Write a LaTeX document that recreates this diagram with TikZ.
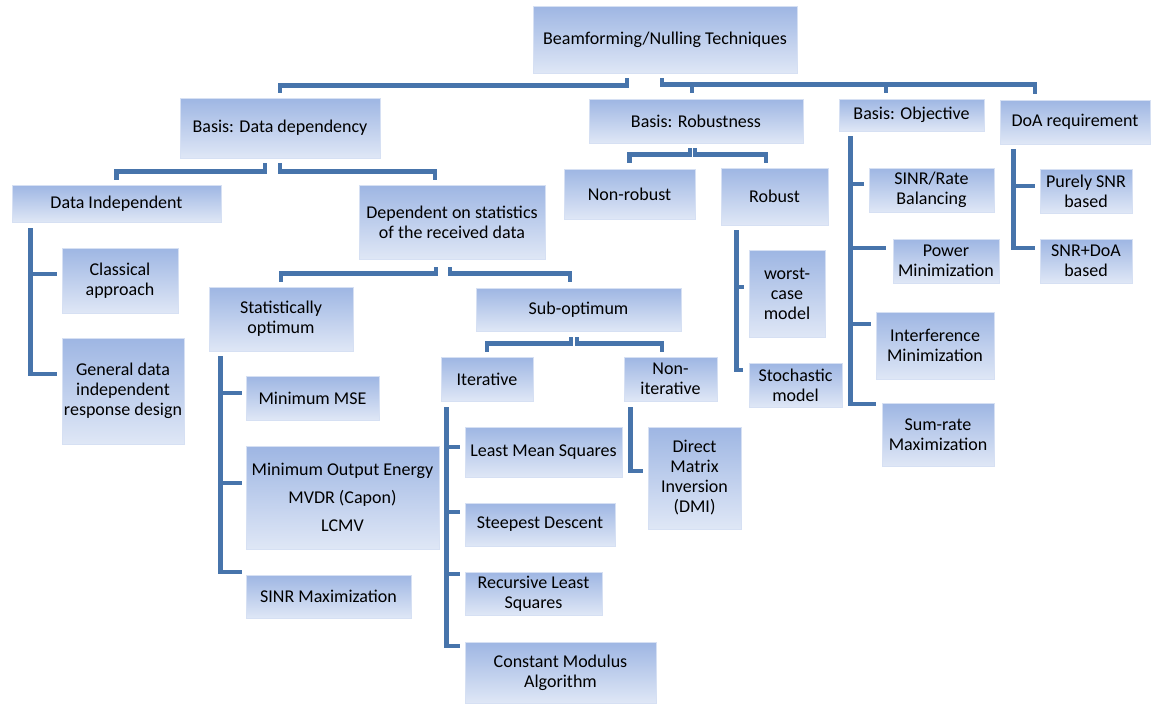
\documentclass[tikz,border=0pt]{standalone}
\usepackage{fontspec}
\setmainfont{Carlito}
\usepackage{tikz}
\usetikzlibrary{calc}
\definecolor{boxtop}{RGB}{158,182,227}
\definecolor{boxbottom}{RGB}{223,231,246}
\definecolor{boxedge}{RGB}{214,224,243}
\definecolor{linkblue}{RGB}{71,116,171}

\begin{document}
\begin{tikzpicture}[
        x=1pt, y=-1pt,
        block/.style={draw=boxedge, line width=0.8pt, top color=boxtop, bottom color=boxbottom,
            align=center, inner sep=1pt, font=\fontsize{18}{20}\selectfont},
        wh/.style 2 args={minimum width=#1, minimum height=#2},
        link/.style={draw=linkblue, line width=4.5pt, line join=miter}
    ]
        \useasboundingbox (0,0) rectangle (1153,704);

        % Root and first level
        \node[block, wh={264}{67}] (root) at (665,39.5) {Beamforming/Nulling Techniques};
        \node[block, wh={200}{60}] (dd) at (280,128) {Basis: Data dependency};
        \node[block, wh={214}{44}] (rob) at (696,121) {Basis: Robustness};
        \node[block, wh={145}{32}] (obj) at (911.5,115) {Basis: Objective};
        \node[block, wh={150}{44}] (doa) at (1075,122) {DoA requirement};

        % Data dependency side
        \node[block, wh={209}{37}] (indep) at (116.5,203.5) {Data Independent};
        \node[block, wh={186}{74}] (dep) at (452,222) {Dependent on statistics\\of the received data};
        \node[block, wh={116}{65}] (classic) at (120,280.5) {Classical\\approach};
        \node[block, wh={122}{106}] (general) at (123,391) {General data\\independent\\response design};
        \node[block, wh={144}{64}] (statopt) at (281,319) {Statistically\\optimum};
        \node[block, wh={205}{43}] (subopt) at (578.5,309.5) {Sub-optimum};

        % Statistically optimum
        \node[block, wh={133}{44}] (mmse) at (312.5,398) {Minimum MSE};
        \node[block, wh={193}{103}] (moe) at (342.5,497.5) {Minimum Output Energy\\[8pt]MVDR (Capon)\\[8pt]LCMV};
        \node[block, wh={165}{43}] (sinrmax) at (328.5,596.5) {SINR Maximization};

        % Sub-optimum
        \node[block, wh={92}{44}] (iter) at (487,379) {Iterative};
        \node[block, wh={93}{44}] (noniter) at (670.5,379) {Non-\\iterative};
        \node[block, wh={157}{50}] (lms) at (543.5,452) {Least Mean Squares};
        \node[block, wh={150}{43}] (sd) at (540,524.5) {Steepest Descent};
        \node[block, wh={137}{43}] (rls) at (533.5,593.5) {Recursive Least\\Squares};
        \node[block, wh={191}{61}] (cma) at (560.5,672.5) {Constant Modulus\\Algorithm};
        \node[block, wh={93}{102}] (dmi) at (694.5,478) {Direct\\Matrix\\Inversion\\(DMI)};

        % Robustness
        \node[block, wh={131}{50}] (nonrob) at (629.5,194) {Non-robust};
        \node[block, wh={107}{57}] (robust) at (774.5,196.5) {Robust};
        \node[block, wh={76}{87}] (worst) at (787,293.5) {worst-\\case\\model};
        \node[block, wh={93}{44}] (stoch) at (795.5,385) {Stochastic\\model};

        % Objective
        \node[block, wh={125}{44}] (sinrbal) at (931.5,190) {SINR/Rate\\Balancing};
        \node[block, wh={106}{44}] (powmin) at (946,261) {Power\\Minimization};
        \node[block, wh={118}{67}] (intmin) at (935,345.5) {Interference\\Minimization};
        \node[block, wh={112}{63}] (sumrate) at (938,434.5) {Sum-rate\\Maximization};

        % DoA requirement
        \node[block, wh={92}{44}] (purely) at (1086,191) {Purely SNR\\based};
        \node[block, wh={92}{44}] (snrdoa) at (1086,261) {SNR+DoA\\based};

        % Links from the root
        \draw[link] ($(root.south)+(-38,5)$) -- ++(0,7) -| ($(dd.north)+(0,-5)$);
        \draw[link] ($(root.south)+(-3,5)$) -- ++(0,6) -| ($(doa.north)+(-40,-6)$);
        \draw[link] ($(rob.north)+(-4,-15)$) -- ($(rob.north)+(-4,-6)$);
        \draw[link] ($(obj.north)+(-25.5,-15)$) -- ($(obj.north)+(-25.5,-6)$);

        % Links below data dependency
        \draw[link] ($(dd.south)+(-15,5)$) -- ++(0,8) -| ($(indep.north)+(0,-5)$);
        \draw[link] ($(dd.south)+(0,5)$) -- ++(0,8) -| ($(dep.north)+(-17,-5)$);
        \draw[link] ($(indep.south west)+(19,6)$) |- ($(general.west)+(-5,-17)$);
        \draw[link] ($(classic.west)+(-31,-6.5)$) -- ($(classic.west)+(-5,-6.5)$);
        \draw[link] ($(dep.south)+(-16,8)$) -- ++(0,6) -| ($(statopt.north)+(0,-5)$);
        \draw[link] ($(dep.south)+(-2,8)$) -- ++(0,6) -| ($(subopt.north)+(-8.5,-6)$);

        % Links below statistically optimum
        \draw[link] ($(statopt.south west)+(12,5)$) |- ($(sinrmax.west)+(-4,-24.5)$);
        \draw[link] ($(mmse.west)+(-25,-5)$) -- ($(mmse.west)+(-4,-5)$);
        \draw[link] ($(moe.west)+(-25,-14.5)$) -- ($(moe.west)+(-4,-14.5)$);

        % Links below sub-optimum
        \draw[link] ($(subopt.south)+(-7.5,6)$) -- ++(0,6) -| ($(iter.north)+(0,-5)$);
        \draw[link] ($(subopt.south)+(-1.5,6)$) -- ++(0,6) -| ($(noniter.north)+(-8.5,-5)$);
        \draw[link] ($(iter.south west)+(6,6)$) |- ($(cma.west)+(-5,-26.5)$);
        \draw[link] ($(lms.west)+(-18,-5)$) -- ($(lms.west)+(-5,-5)$);
        \draw[link] ($(sd.west)+(-18,-12.5)$) -- ($(sd.west)+(-5,-12.5)$);
        \draw[link] ($(rls.west)+(-18,-19.5)$) -- ($(rls.west)+(-5,-19.5)$);
        \draw[link] ($(noniter.south west)+(7,6)$) |- ($(dmi.west)+(-5,-7)$);

        % Links below robustness
        \draw[link] ($(rob.south)+(-6,5)$) -- ++(0,6) -| ($(nonrob.north)+(0,-6)$);
        \draw[link] ($(rob.south)+(-1,5)$) -- ++(0,6) -| ($(robust.north)+(-8.5,-5)$);
        \draw[link] ($(robust.south west)+(16,5)$) |- ($(stoch.west)+(-6,-15)$);
        \draw[link] ($(worst.west)+(-12,-6.5)$) -- ($(worst.west)+(-5,-6.5)$);

        % Links below objective
        \draw[link] ($(obj.south west)+(12,5)$) |- ($(sumrate.west)+(-6,-30.5)$);
        \draw[link] ($(sinrbal.west)+(-18,-6)$) -- ($(sinrbal.west)+(-5,-6)$);
        \draw[link] ($(powmin.west)+(-42,-13)$) -- ($(powmin.west)+(-7,-13)$);
        \draw[link] ($(intmin.west)+(-25,-21.5)$) -- ($(intmin.west)+(-5,-21.5)$);

        % Links below DoA requirement
        \draw[link] ($(doa.south west)+(14,5)$) |- ($(snrdoa.west)+(-5,-13)$);
        \draw[link] ($(purely.west)+(-26,-5)$) -- ($(purely.west)+(-5,-5)$);
    \end{tikzpicture}
\end{document}
